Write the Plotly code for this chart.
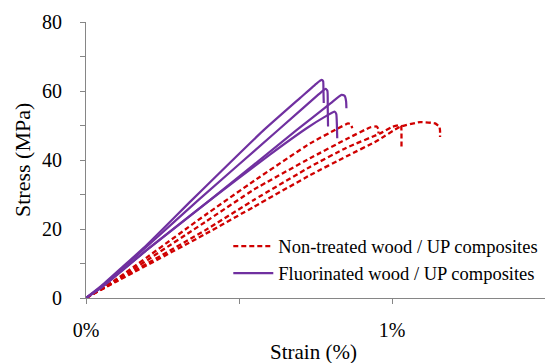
import plotly.graph_objects as go

# Stress-strain curves of wood / UP composite specimens (strain in %, stress in MPa)
untreated_strain = [
    [0, 0.10, 0.389, 0.55, 0.732, 0.82, 0.857, 0.866, 0.870],
    [0, 0.10, 0.389, 0.55, 0.732, 0.85, 0.93, 0.950, 0.955, 0.956],
    [0, 0.10, 0.389, 0.55, 0.732, 0.85, 0.961, 1.000, 1.026, 1.030, 1.031, 1.031],
    [0, 0.10, 0.389, 0.55, 0.732, 0.85, 0.95, 1.026, 1.092, 1.141, 1.155, 1.157, 1.157],
]
untreated_stress = [
    [0, 5.5, 24.0, 34.0, 44.8, 49.0, 50.6, 50.3, 49.2],
    [0, 5.2, 22.0, 31.5, 40.5, 46.0, 49.5, 49.7, 49.0, 47.7],
    [0, 5.0, 19.6, 28.5, 38.0, 43.5, 47.7, 49.6, 50.1, 49.8, 47.0, 43.8],
    [0, 4.8, 18.5, 26.5, 35.6, 41.0, 45.5, 49.6, 51.0, 50.6, 49.6, 48.5, 46.7],
]

fluorinated_strain = [
    [0, 0.05, 0.20, 0.345, 0.579, 0.700, 0.755, 0.770, 0.775, 0.776, 0.777],
    [0, 0.05, 0.20, 0.366, 0.628, 0.760, 0.783, 0.789, 0.790, 0.791],
    [0, 0.05, 0.20, 0.404, 0.689, 0.800, 0.835, 0.845, 0.850, 0.851],
    [0, 0.05, 0.20, 0.400, 0.600, 0.721, 0.780, 0.813, 0.818, 0.820, 0.821],
]
fluorinated_stress = [
    [0, 3.5, 15.5, 28.3, 48.5, 58.0, 62.3, 63.2, 62.8, 60.0, 56.5],
    [0, 3.3, 15.0, 28.3, 48.7, 59.0, 60.6, 60.0, 55.0, 49.7],
    [0, 3.0, 14.0, 28.3, 48.7, 56.5, 58.9, 58.6, 57.0, 55.0],
    [0, 3.0, 14.0, 28.0, 41.5, 49.2, 52.5, 54.0, 53.3, 50.0, 46.3],
]

series_names = ["Non-treated wood / UP composites", "Fluorinated wood / UP composites"]
x_tick_vals = [0, 0.5, 1.0, 1.5]
x_tick_text = ["0%", "", "1%", ""]
y_tick_vals = [0, 20, 40, 60, 80]

RED = "#D00000"
PURPLE = "#7030A0"
AXIS = "#868686"
FONT = "Liberation Serif"

fig = go.Figure()

for i, (xs, ys) in enumerate(zip(untreated_strain, untreated_stress)):
    fig.add_trace(go.Scatter(
        x=xs, y=ys, mode="lines", name=series_names[0],
        legendgroup="untreated", showlegend=(i == 0),
        line=dict(color=RED, width=2.3, dash="5px,3px", shape="spline", smoothing=0.4),
    ))

for i, (xs, ys) in enumerate(zip(fluorinated_strain, fluorinated_stress)):
    fig.add_trace(go.Scatter(
        x=xs, y=ys, mode="lines", name=series_names[1],
        legendgroup="fluorinated", showlegend=(i == 0),
        line=dict(color=PURPLE, width=2.2, shape="spline", smoothing=0.4),
    ))

x_range = [0, 1.5]
y_range = [0, 80]

fig.update_layout(
    width=545, height=363,
    margin=dict(l=86, r=0, t=22, b=65, pad=0),
    paper_bgcolor="white", plot_bgcolor="white",
    font=dict(family=FONT, size=20, color="#000000"),
    showlegend=True,
    legend=dict(
        x=0.31, y=0.255, xanchor="left", yanchor="top",
        bgcolor="rgba(0,0,0,0)", font=dict(family=FONT, size=18.5),
        traceorder="grouped", tracegroupgap=0,
        itemwidth=40,
    ),
    xaxis=dict(
        range=x_range, showgrid=False, zeroline=False,
        showline=True, linecolor=AXIS, linewidth=1,
        tickmode="array", tickvals=x_tick_vals, ticktext=x_tick_text,
        ticks="outside", ticklen=5, tickcolor=AXIS, tickwidth=1,
        ticklabelstandoff=9,
        tickfont=dict(family=FONT, size=20),
    ),
    yaxis=dict(
        range=y_range, showgrid=False, zeroline=False,
        showline=True, linecolor=AXIS, linewidth=1,
        tickmode="array", tickvals=y_tick_vals,
        ticks="outside", ticklen=5, tickcolor=AXIS, tickwidth=1,
        minor=dict(tickmode="linear", tick0=0, dtick=10, ticks="outside",
                   ticklen=5, tickcolor=AXIS, tickwidth=1, showgrid=False),
        ticklabelstandoff=14,
        tickfont=dict(family=FONT, size=20),
    ),
    # overlay axes carry the inner halves of the crossing major ticks
    xaxis2=dict(
        range=x_range, overlaying="x", anchor="y", side="bottom",
        showgrid=False, zeroline=False, showline=False,
        tickmode="array", tickvals=x_tick_vals, showticklabels=False,
        ticks="inside", ticklen=5, tickcolor=AXIS, tickwidth=1,
    ),
    yaxis2=dict(
        range=y_range, overlaying="y", anchor="x", side="left",
        showgrid=False, zeroline=False, showline=False,
        tickmode="array", tickvals=y_tick_vals, showticklabels=False,
        ticks="inside", ticklen=5, tickcolor=AXIS, tickwidth=1,
    ),
    annotations=[
        dict(text="Strain (%)", xref="paper", yref="paper", x=0.495, y=0,
             yshift=-54, xanchor="center", yanchor="middle", showarrow=False,
             font=dict(family=FONT, size=21)),
        dict(text="Stress (MPa)", xref="paper", yref="paper", x=0, y=0.5,
             xshift=-64, xanchor="center", yanchor="middle", showarrow=False,
             textangle=-90, font=dict(family=FONT, size=22)),
    ],
)

fig.write_html("out.html")
